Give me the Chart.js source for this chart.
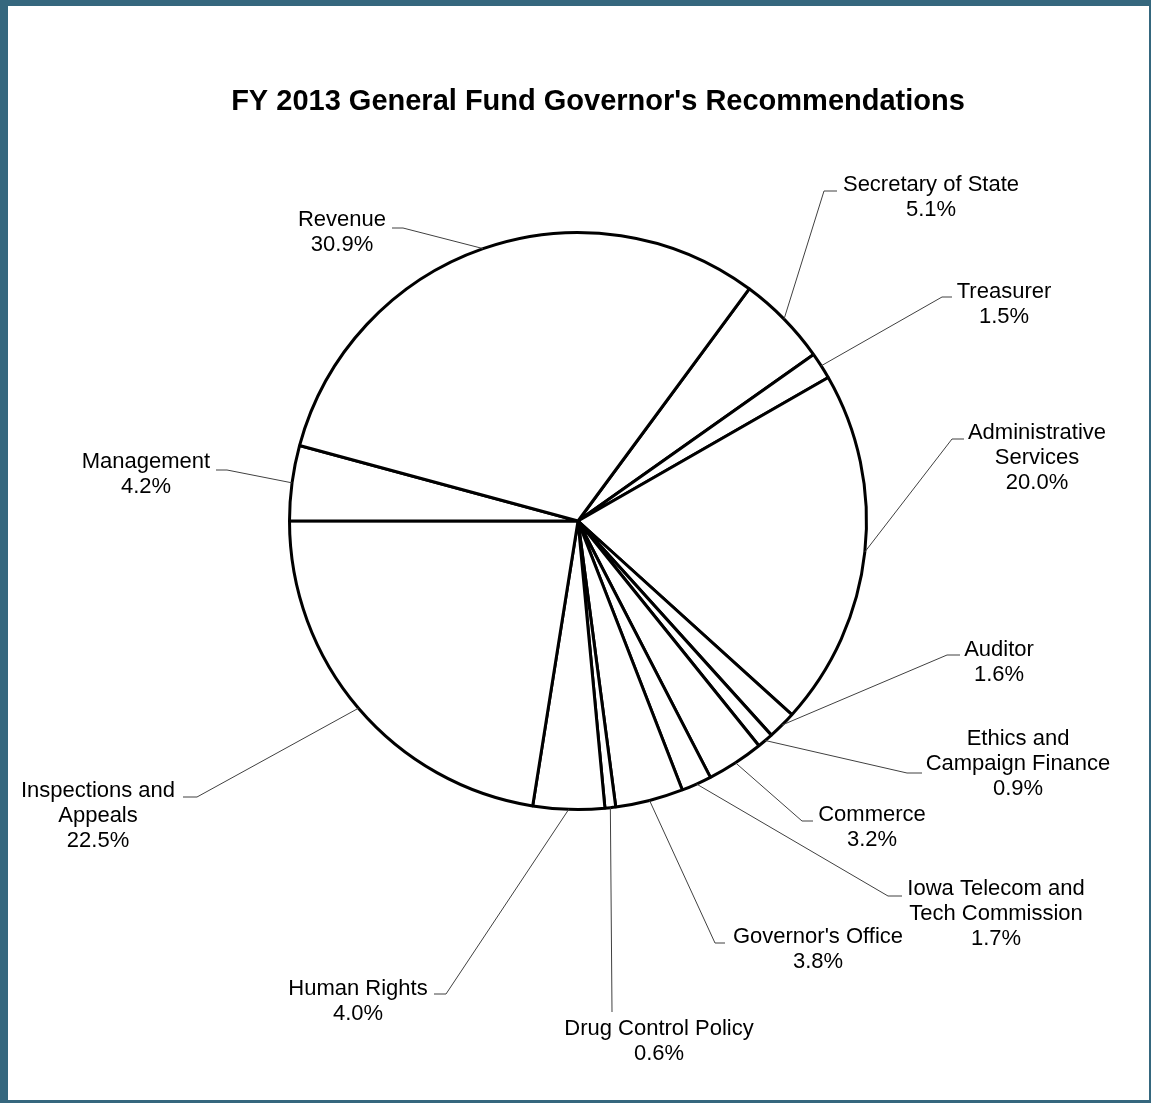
<!DOCTYPE html>
<html>
<head>
<meta charset="utf-8">
<script src="https://cdn.jsdelivr.net/npm/chart.js@4.4.1/dist/chart.umd.min.js"></script>
<style>
  html, body { margin: 0; padding: 0; background: #fff; }
  #wrap { position: relative; width: 1151px; height: 1103px; }
  #myChart { position: absolute; left: 0; top: 0; }
  #frame {
    position: absolute; left: 0; top: 0; width: 1151px; height: 1103px;
    box-sizing: border-box; border-style: solid; border-color: #35677e;
    border-width: 6px 2px 3px 8px; pointer-events: none;
  }
</style>
</head>
<body>
<div id="wrap">
  <canvas id="myChart" width="1151" height="1103"></canvas>
  <div id="frame"></div>
</div>
<script>
// slices in clockwise order, starting at Secretary of State
const categories = [
    ['Secretary of State'],
    ['Treasurer'],
    ['Administrative', 'Services'],
    ['Auditor'],
    ['Ethics and', 'Campaign Finance'],
    ['Commerce'],
    ['Iowa Telecom and', 'Tech Commission'],
    ["Governor's Office"],
    ['Drug Control Policy'],
    ['Human Rights'],
    ['Inspections and', 'Appeals'],
    ['Management'],
    ['Revenue']
];
const shares = [5.1, 1.5, 20.0, 1.6, 0.9, 3.2, 1.7, 3.8, 0.6, 4.0, 22.5, 4.2, 30.9];

const chartTitle = "FY 2013 General Fund Governor's Recommendations";

// label placement relative to the pie centre:
// text centre x, first baseline y, elbow x, elbow y, end of the short horizontal x
const labelLayout = [
    [353, -330, 246, -330, 259],
    [426, -223, 364, -224, 374],
    [459, -82, 374, -82, 386],
    [421, 135, 369, 134, 382],
    [440, 224, 329, 252, 344],
    [294, 300, 224, 300, 235],
    [418, 374, 310, 375, 324],
    [240, 422, 137, 422, 147],
    [81, 514, 34, 491, 34],
    [-220, 474, -132, 473, -144],
    [-480, 276, -381, 276, -395],
    [-432, -53, -351, -51, -362],
    [-236, -295, -175, -293, -186]
];

const FONT = 'Arial, "Liberation Sans", sans-serif';

const labelPlugin = {
    id: 'pieLabels',
    afterDatasetsDraw(chart) {
        const ctx = chart.ctx;
        const arcs = chart.getDatasetMeta(0).data;
        ctx.save();
        // title
        ctx.fillStyle = '#000';
        ctx.font = 'bold 29px ' + FONT;
        ctx.textAlign = 'center';
        ctx.textBaseline = 'alphabetic';
        ctx.fillText(chartTitle, 598, 110);

        arcs.forEach(function(arc, i) {
            const p = arc.getProps(['x', 'y', 'startAngle', 'endAngle', 'outerRadius'], true);
            const mid = (p.startAngle + p.endAngle) / 2;
            const ax = p.x + Math.cos(mid) * p.outerRadius;
            const ay = p.y + Math.sin(mid) * p.outerRadius;
            const L = labelLayout[i];

            ctx.strokeStyle = '#404040';
            ctx.lineWidth = 1;
            ctx.beginPath();
            ctx.moveTo(ax, ay);
            ctx.lineTo(p.x + L[2], p.y + L[3]);
            ctx.lineTo(p.x + L[4], p.y + L[3]);
            ctx.stroke();

            const lines = categories[i].concat([shares[i].toFixed(1) + '%']);
            ctx.fillStyle = '#000';
            ctx.font = '22px ' + FONT;
            ctx.textAlign = 'center';
            lines.forEach(function(t, k) {
                ctx.fillText(t, p.x + L[0], p.y + L[1] + k * 25);
            });
        });
        ctx.restore();
    }
};

const canvas = document.getElementById('myChart');
const ctx = canvas.getContext('2d');
const config = {
    type: 'pie',
    data: {
        labels: categories,
        datasets: [{
            data: shares,
            backgroundColor: '#ffffff',
            borderColor: '#000000',
            borderWidth: 3
        }]
    },
    options: {
        responsive: false,
        animation: false,
        rotation: 36.4,
        layout: {
            padding: { left: 288, right: 283, top: 231, bottom: 292 }
        },
        plugins: {
            legend: { display: false },
            tooltip: { enabled: false },
            title: { display: false }
        }
    },
    plugins: [labelPlugin]
};
const myChart = new Chart(ctx, config);
</script>
</body>
</html>
